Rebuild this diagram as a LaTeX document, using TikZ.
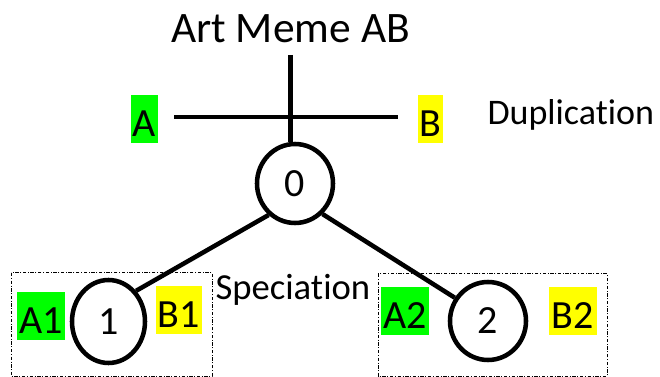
\documentclass[tikz,border=0pt]{standalone}
\usepackage{fontspec}
\setmainfont{Carlito}[Ligatures=NoCommon]
\usetikzlibrary{shapes.geometric}

\tikzset{every picture/.style={line width=0.75pt}}
\tikzset{
  memenode/.style={draw, ellipse, line width=3.4pt, inner sep=0pt, font=\fontsize{30}{36}\selectfont},
  hlgreen/.style={fill={rgb, 255:red, 0; green, 255; blue, 0}, inner sep=0pt, text height=31.5pt, text depth=4.5pt, anchor=base, font=\fontsize{30}{36}\selectfont},
  hlyellow/.style={fill={rgb, 255:red, 255; green, 255; blue, 0}, inner sep=0pt, text height=31.5pt, text depth=4.5pt, anchor=base, font=\fontsize{30}{36}\selectfont},
  branch/.style={line width=3.4pt},
  groupbox/.style={line width=0.75pt, dash pattern=on 2.5pt off 1.2pt on 0.8pt off 1.2pt}
}

\begin{document}
\begin{tikzpicture}[x=0.75pt,y=0.75pt,yscale=-1,xscale=1]
\useasboundingbox (0,0) rectangle (660,377);

% duplication
\node (title) [anchor=base, font=\fontsize{32.6}{39}\selectfont] at (290.5,42.5) {Art Meme AB};
\coordinate (stem) at (290.7,55);
\coordinate (dupL) at (174,117);
\coordinate (dupR) at (398,117);
\node (A) [hlgreen, minimum width=20.25pt] at (144.5,137) {A};
\node (B) [hlyellow, minimum width=18.75pt] at (430.5,137) {B};
\node (dup) [anchor=base west, inner sep=0pt, font=\fontsize{27}{32}\selectfont] at (487,125) {Duplication};

% tree
\node (n0) [memenode, minimum width=57pt, minimum height=59.25pt] at (295,183.5) {0};
\node (n1) [memenode, minimum width=54.75pt, minimum height=62.25pt] at (108.5,321.5) {1};
\node (n2) [memenode, minimum width=57pt, minimum height=58.5pt] at (488,321) {2};

\draw [branch] (dupL) -- (dupR) ;
\draw [branch] (stem) -- (stem |- n0.north) ;
\draw [branch] (n0.230) -- (n1.48) ;
\draw [branch] (n0.312) -- (n2.145) ;

% speciation
\node (spec) [anchor=base west, inner sep=0pt, font=\fontsize{27.5}{33}\selectfont] at (215,300) {Speciation};
\draw [groupbox] (11,273) rectangle (212,376) ;
\draw [groupbox] (378,274) rectangle (607,376) ;

\node (A1) [hlgreen, minimum width=36pt] at (41,334) {A1};
\node (B1) [hlyellow, minimum width=34.5pt] at (179,328) {B1};
\node (A2) [hlgreen, minimum width=36pt] at (405,329) {A2};
\node (B2) [hlyellow, minimum width=36pt] at (573,329) {B2};

\end{tikzpicture}
\end{document}
